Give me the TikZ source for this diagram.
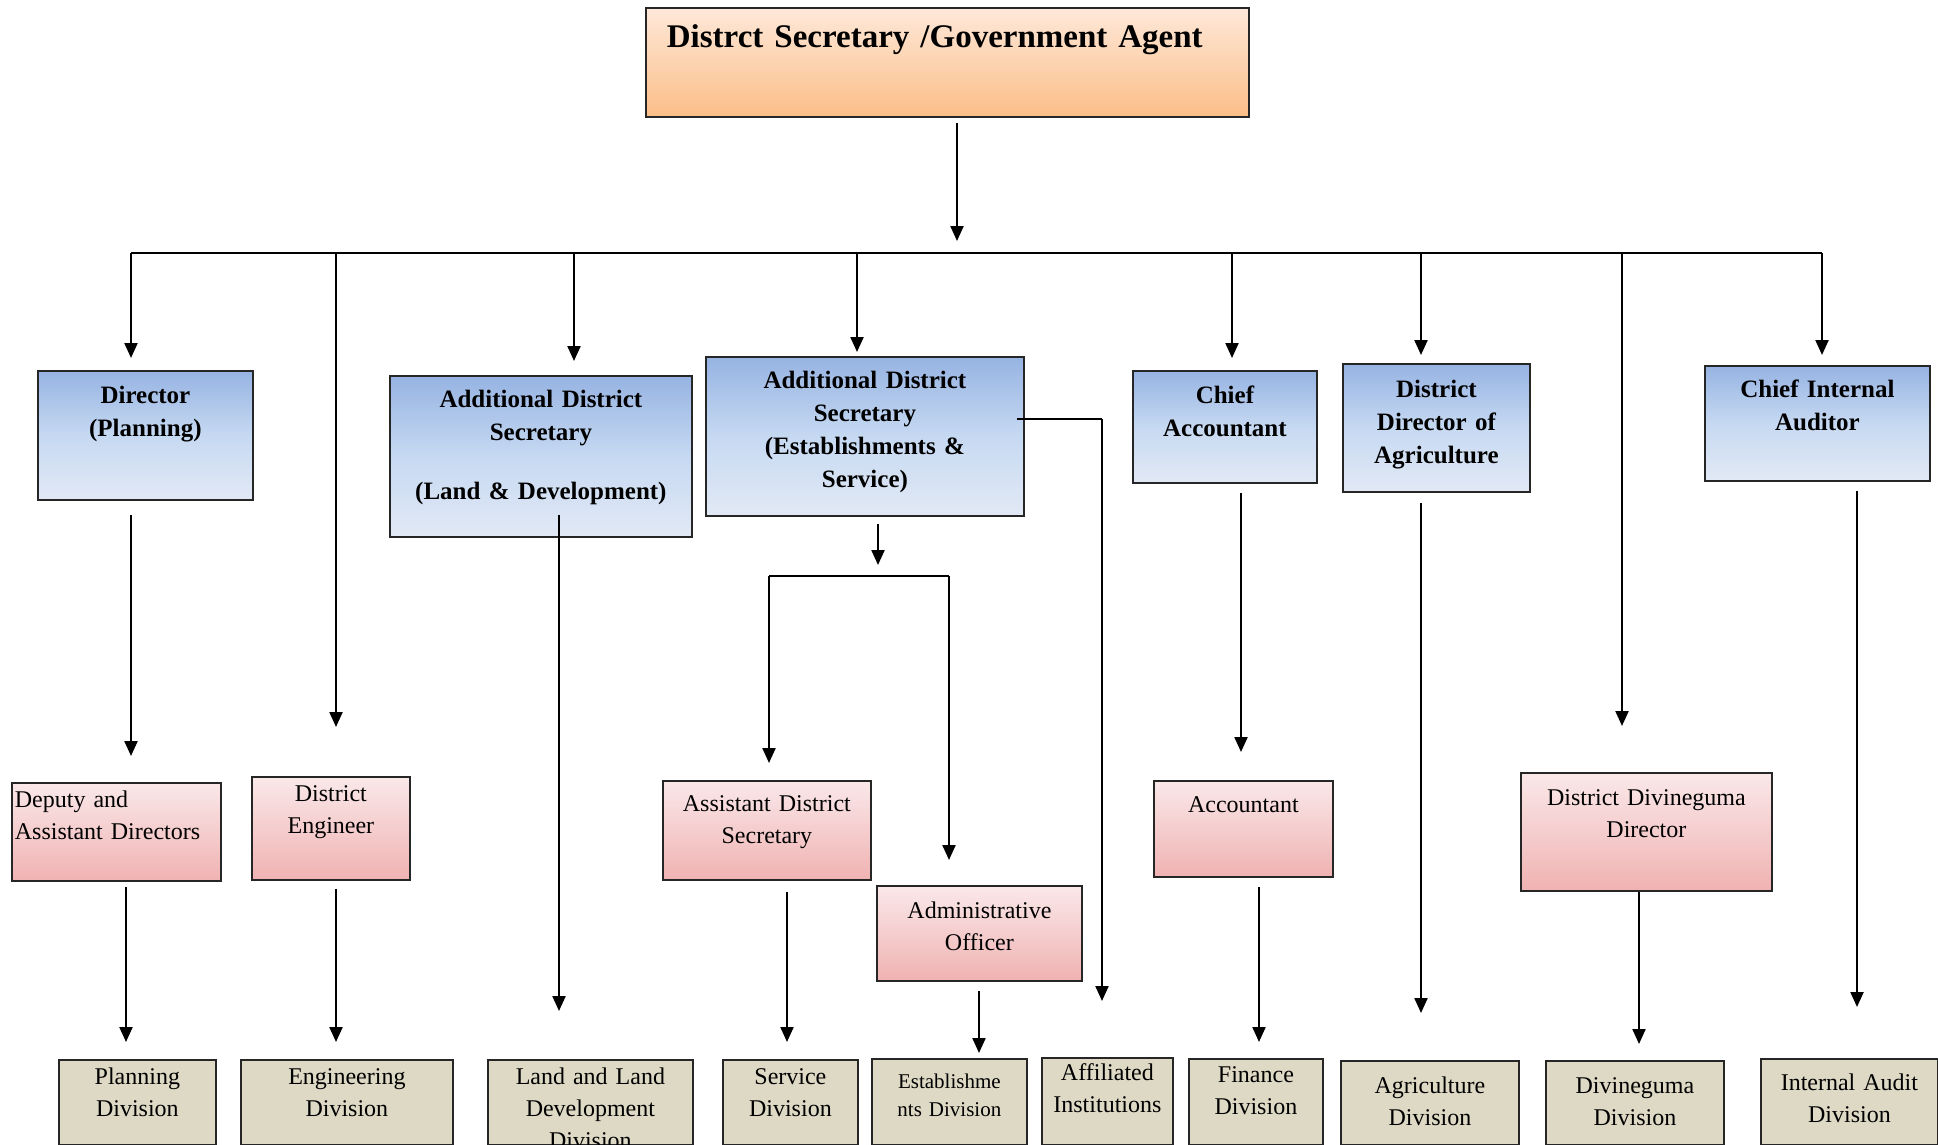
\documentclass[tikz,border=0pt]{standalone}
\usepackage{fontspec}
\setmainfont{Liberation Serif}
\usetikzlibrary{arrows.meta,calc}

\definecolor{orangetop}{RGB}{254,232,217}
\definecolor{orangebot}{RGB}{251,190,135}
\definecolor{bluetop}{RGB}{150,179,226}
\definecolor{bluemid}{RGB}{198,217,242}
\definecolor{bluebot}{RGB}{226,233,245}
\definecolor{pinktop}{RGB}{250,232,233}
\definecolor{pinkbot}{RGB}{240,178,178}
\definecolor{tanfill}{RGB}{221,217,196}

\begin{document}
\begin{tikzpicture}[x=1pt,y=-1pt,>={Triangle[length=15pt,width=13pt]},
	box/.style={draw=black!85, line width=1.8pt, inner sep=0pt, align=center, anchor=north west},
	govbox/.style={box, top color=orangetop, bottom color=orangebot, font=\fontsize{33}{40}\selectfont\bfseries},
	headbox/.style={box, top color=bluetop, bottom color=bluebot, middle color=bluemid, font=\fontsize{25}{33}\selectfont\bfseries},
	officerbox/.style={box, top color=pinktop, bottom color=pinkbot, font=\fontsize{24}{32}\selectfont},
	divbox/.style={box, fill=tanfill, font=\fontsize{24}{32}\selectfont},
	link/.style={line width=2.2pt, ->},
	thinlink/.style={line width=1.5pt}
	]

	\useasboundingbox (0,0) rectangle (1938,1144);
	\fill[white] (0,0) rectangle (1938,1144);

	% Top of the chart
	\node[govbox, align=left, inner xsep=21pt, text width=561pt, text height=40pt, text depth=69pt] (gov) at (645,7) {Distrct Secretary /Government Agent};

	% Heads of the sections
	\node[headbox, text width=215pt, text height=33pt, text depth=96pt] (dirplan) at (37,370) {Director\\(Planning)};
	\node[headbox, text width=302pt, text height=32pt, text depth=129pt] (adsland) at (389,375) {Additional District\\Secretary\\[26pt](Land \& Development)};
	\node[headbox, text width=318pt, text height=32pt, text depth=127pt] (adsest) at (705,356) {Additional District\\Secretary\\(Establishments \&\\Service)};
	\node[headbox, text width=184pt, text height=33pt, text depth=79pt] (chiefacc) at (1132,370) {Chief\\Accountant};
	\node[headbox, text width=187pt, text height=34pt, text depth=94pt] (ddagri) at (1342,363) {District\\Director of\\Agriculture};
	\node[headbox, text width=225pt, text height=32pt, text depth=83pt] (cia) at (1704,365) {Chief Internal\\Auditor};

	% Officers
	\node[officerbox, align=left, inner xsep=3pt, text width=203pt, text height=25pt, text depth=73pt] (deputy) at (11,782) {Deputy and\\Assistant Directors};
	\node[officerbox, text width=158pt, text height=25pt, text depth=78pt] (diseng) at (251,776) {District\\Engineer};
	\node[officerbox, text width=208pt, text height=31pt, text depth=68pt] (asstds) at (662,780) {Assistant District\\Secretary};
	\node[officerbox, text width=205pt, text height=33pt, text depth=62pt] (admoff) at (876,885) {Administrative\\Officer};
	\node[officerbox, text width=179pt, text height=32pt, text depth=64pt] (accnt) at (1153,780) {Accountant};
	\node[officerbox, text width=251pt, text height=33pt, text depth=85pt] (ddivi) at (1520,772) {District Divineguma\\Director};

	% Divisions along the bottom
	\node[divbox, text width=157pt, text height=25pt, text depth=60pt] (plandiv) at (58,1059) {Planning\\Division};
	\node[divbox, text width=212pt, text height=25pt, text depth=60pt] (engdiv) at (240,1059) {Engineering\\Division};
	\node[divbox, text width=205pt, text height=25pt, text depth=60pt] (landdiv) at (487,1059) {Land and Land\\Development\\Division};
	\node[divbox, text width=135pt, text height=25pt, text depth=60pt] (servdiv) at (722,1059) {Service\\Division};
	\node[divbox, font=\fontsize{21}{28}\selectfont, text width=155pt, text height=30pt, text depth=56pt] (estdiv) at (871,1058) {Establishme\\nts Division};
	\node[divbox, text width=131pt, text height=23pt, text depth=64pt] (affinst) at (1041,1057) {Affiliated\\Institutions};
	\node[divbox, text width=134pt, text height=24pt, text depth=62pt] (findiv) at (1188,1058) {Finance\\Division};
	\node[divbox, text width=178pt, text height=33pt, text depth=51pt] (agridiv) at (1340,1060) {Agriculture\\Division};
	\node[divbox, text width=178pt, text height=33pt, text depth=51pt] (dividiv) at (1545,1060) {Divineguma\\Division};
	\node[divbox, text width=177pt, text height=32pt, text depth=54pt] (auddiv) at (1760,1058) {Internal Audit\\Division};

	% Main line under the top box
	\coordinate (bmid) at (957,253);
	\coordinate (b1) at (131,253);
	\coordinate (b2) at (336,253);
	\coordinate (b3) at (574,253);
	\coordinate (b4) at (857,253);
	\coordinate (b5) at (1232,253);
	\coordinate (b6) at (1421,253);
	\coordinate (b7) at (1622,253);
	\coordinate (b8) at (1822,253);
	\draw[line width=2pt] (b1) -- (b8);
	\draw[link] ([yshift=-5pt]gov.south -| bmid) -- ([yshift=12pt]bmid);

	% Drops from the main line
	\draw[link] (b1) -- ([yshift=12pt]dirplan.north -| b1);
	\draw[link] (b2) -- ([yshift=49pt]diseng.north -| b2);
	\draw[link] (b3) -- ([yshift=14pt]adsland.north -| b3);
	\draw[link] (b4) -- ([yshift=4pt]adsest.north -| b4);
	\draw[link] (b5) -- ([yshift=12pt]chiefacc.north -| b5);
	\draw[link] (b6) -- ([yshift=8pt]ddagri.north -| b6);
	\draw[link] (b7) -- ([yshift=46pt]ddivi.north -| b7);
	\draw[link] (b8) -- ([yshift=10pt]cia.north -| b8);

	% Columns of the lower arrows
	\coordinate (cland) at (559,0);
	\coordinate (cacc) at (1241,0);
	\coordinate (caud) at (1857,0);
	\coordinate (cplan) at (126,0);
	\coordinate (cserv) at (787,0);
	\coordinate (cest) at (979,0);
	\coordinate (cfin) at (1259,0);
	\coordinate (cdivi) at (1639,0);

	\draw[link] ([yshift=-14pt]dirplan.south -| b1) -- ([yshift=26pt]deputy.north -| b1);
	\draw[link] ([yshift=23pt]adsland.south -| cland) -- ([yshift=48pt]landdiv.north -| cland);
	\draw[link] ([yshift=-9pt]chiefacc.south -| cacc) -- ([yshift=28pt]accnt.north -| cacc);
	\draw[link] ([yshift=-10pt]ddagri.south -| b6) -- ([yshift=47pt]agridiv.north -| b6);
	\draw[link] ([yshift=-9pt]cia.south -| caud) -- ([yshift=51pt]auddiv.north -| caud);

	% Split under the establishments secretary
	\coordinate (csplit) at (878,576);
	\coordinate (splitL) at (769,576);
	\coordinate (splitR) at (949,576);
	\draw[link] ([yshift=-7pt]adsest.south -| csplit) -- ([yshift=11pt]csplit);
	\draw[thinlink] (splitL) -- (splitR);
	\draw[link] (splitL) -- ([yshift=17pt]asstds.north -| splitL);
	\draw[link] (splitR) -- ([yshift=25pt]admoff.north -| splitR);

	% Side line to the affiliated institutions
	\coordinate (cturn) at (1102,419);
	\draw[thinlink] ([xshift=-8pt]adsest.east |- cturn) -- (cturn);
	\draw[link] (cturn) -- ([yshift=56pt]affinst.north -| cturn);

	% Officers to divisions
	\draw[link] ([yshift=-5pt]deputy.south -| cplan) -- ([yshift=17pt]plandiv.north -| cplan);
	\draw[link] ([yshift=-8pt]diseng.south -| b2) -- ([yshift=17pt]engdiv.north -| b2);
	\draw[link] ([yshift=-11pt]asstds.south -| cserv) -- ([yshift=17pt]servdiv.north -| cserv);
	\draw[link] ([yshift=-9pt]admoff.south -| cest) -- ([yshift=5pt]estdiv.north -| cest);
	\draw[link] ([yshift=-9pt]accnt.south -| cfin) -- ([yshift=16pt]findiv.north -| cfin);
	\draw[link] (ddivi.south -| cdivi) -- ([yshift=16pt]dividiv.north -| cdivi);

\end{tikzpicture}
\end{document}
